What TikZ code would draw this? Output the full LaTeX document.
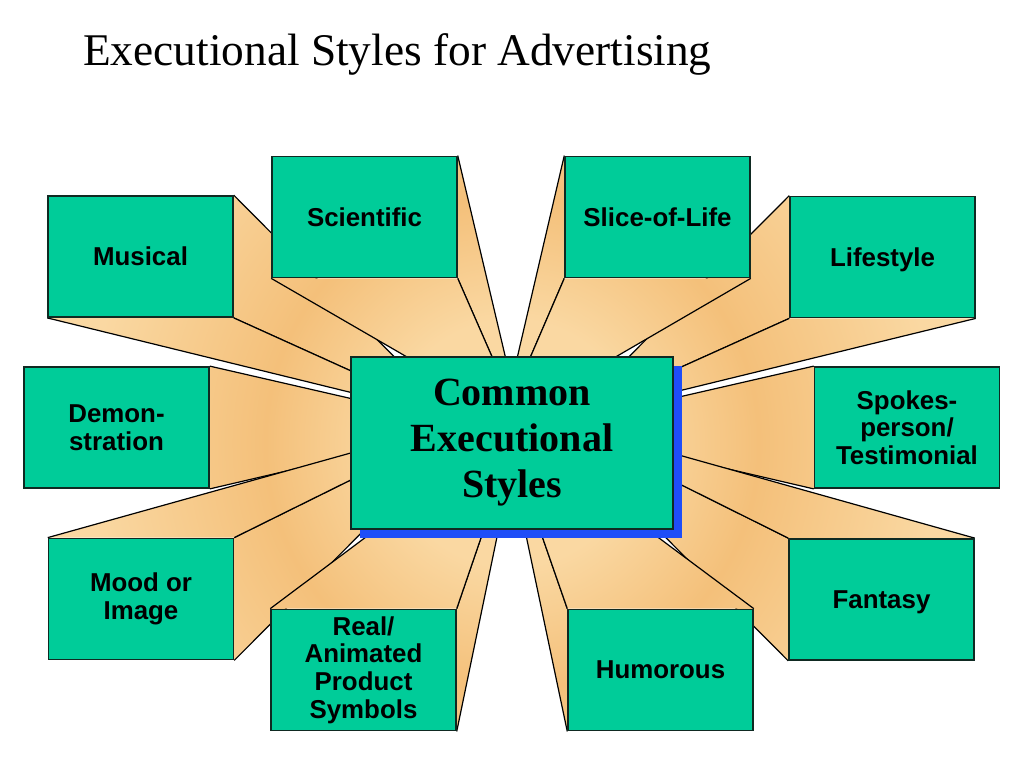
\documentclass[tikz,border=0pt]{standalone}
\usepackage{fontspec}
\setmainfont{Liberation Serif}
\setsansfont{Liberation Sans}
\usetikzlibrary{backgrounds, shadows}
\definecolor{TealFill}{HTML}{00CC99}
\definecolor{InkEdge}{HTML}{0F2A22}
\definecolor{PeachLight}{HTML}{FAD8A2}
\definecolor{PeachDeep}{HTML}{F4C07A}
\definecolor{ShadowBlue}{HTML}{1F4EF8}
\pgfdeclareradialshading{peachglow}{\pgfpoint{0bp}{0bp}}{%
  color(0bp)=(PeachLight); color(5.5bp)=(PeachLight); color(11bp)=(PeachDeep);
  color(19bp)=(PeachLight); color(50bp)=(PeachLight)}
% one side face of an extruded box, shaded and outlined
\newcommand{\spokeside}[4]{%
  \begin{scope}
    \clip (#1.#3) -- (#1.#4) -- (#2) -- cycle;
    \shade[shading=peachglow] (-48,-117) rectangle (1072,1003);
  \end{scope}
  \draw[faceline] (#1.#3) -- (#2) (#1.#4) -- (#2);
}

\begin{document}
\begin{tikzpicture}[x=0.75pt, y=-0.75pt,
    stylebox/.style={draw=InkEdge, line width=1.1pt, fill=TealFill,
      minimum width=138.75pt, minimum height=91pt, inner sep=0pt,
      align=center, font=\sffamily\bfseries\fontsize{19.4}{20.8}\selectfont},
    corebox/.style={draw=InkEdge, line width=1.1pt, fill=TealFill,
      minimum width=241.5pt, minimum height=129pt, inner sep=0pt,
      align=center, font=\rmfamily\bfseries\fontsize{30}{34.5}\selectfont,
      drop shadow={shadow xshift=6.75pt, shadow yshift=-6.75pt,
        fill=ShadowBlue, opacity=1}},
    faceline/.style={draw=black, line width=0.9pt}]
\useasboundingbox (0,0) rectangle (1024,768);

\node[anchor=base west, inner sep=0pt, font=\fontsize{34}{40}\selectfont]
  (title) at (83,65) {Executional Styles for Advertising};

% front faces
\node[stylebox] (mus)  at (140.5,256.5) {Musical};
\node[stylebox] (sci)  at (364.5,217)   {Scientific};
\node[stylebox] (slc)  at (657.5,217)   {Slice-of-Life};
\node[stylebox, text depth=0pt] (lif) at (882.5,257) {Lifestyle};
\node[stylebox] (dem)  at (116.5,427.5) {Demon-\\stration};
\node[stylebox] (spk)  at (907,427.5)   {Spokes-\\person/\\Testimonial};
\node[stylebox] (mood) at (141,599)     {Mood or\\Image};
\node[stylebox, text depth=0pt] (fan) at (881.5,599.5) {Fantasy};
\node[stylebox] (real) at (363.5,670)   {Real/\\Animated\\Product\\Symbols};
\node[stylebox] (hum)  at (660.5,670)   {Humorous};

% vanishing points, hidden behind the centre box
\coordinate (vmus)  at (455,418);
\coordinate (vsci)  at (521,423);
\coordinate (vslc)  at (502,423);
\coordinate (vlif)  at (568,418);
\coordinate (vdem)  at (475,427);
\coordinate (vspk)  at (548,427);
\coordinate (vmood) at (476,418);
\coordinate (vfan)  at (547,418);
\coordinate (vreal) at (521,421);
\coordinate (vhum)  at (502,421);

\begin{scope}[on background layer]
  \fill[white] (0,0) rectangle (1024,768);
  \spokeside{mus}{vmus}{north east}{south east}
  \spokeside{mus}{vmus}{south west}{south east}
  \spokeside{dem}{vdem}{north east}{south east}
  \spokeside{mood}{vmood}{north east}{south east}
  \spokeside{mood}{vmood}{north west}{north east}
  \spokeside{lif}{vlif}{north west}{south west}
  \spokeside{lif}{vlif}{south west}{south east}
  \spokeside{spk}{vspk}{north west}{south west}
  \spokeside{fan}{vfan}{north west}{south west}
  \spokeside{fan}{vfan}{north west}{north east}
  % these lie over their neighbours
  \spokeside{sci}{vsci}{north east}{south east}
  \spokeside{sci}{vsci}{south west}{south east}
  \spokeside{slc}{vslc}{north west}{south west}
  \spokeside{slc}{vslc}{south west}{south east}
  \spokeside{real}{vreal}{north east}{south east}
  \spokeside{real}{vreal}{north west}{north east}
  \spokeside{hum}{vhum}{north west}{south west}
  \spokeside{hum}{vhum}{north west}{north east}
\end{scope}

\node[corebox] (core) at (512,443) {Common\\Executional\\Styles};
\end{tikzpicture}
\end{document}
